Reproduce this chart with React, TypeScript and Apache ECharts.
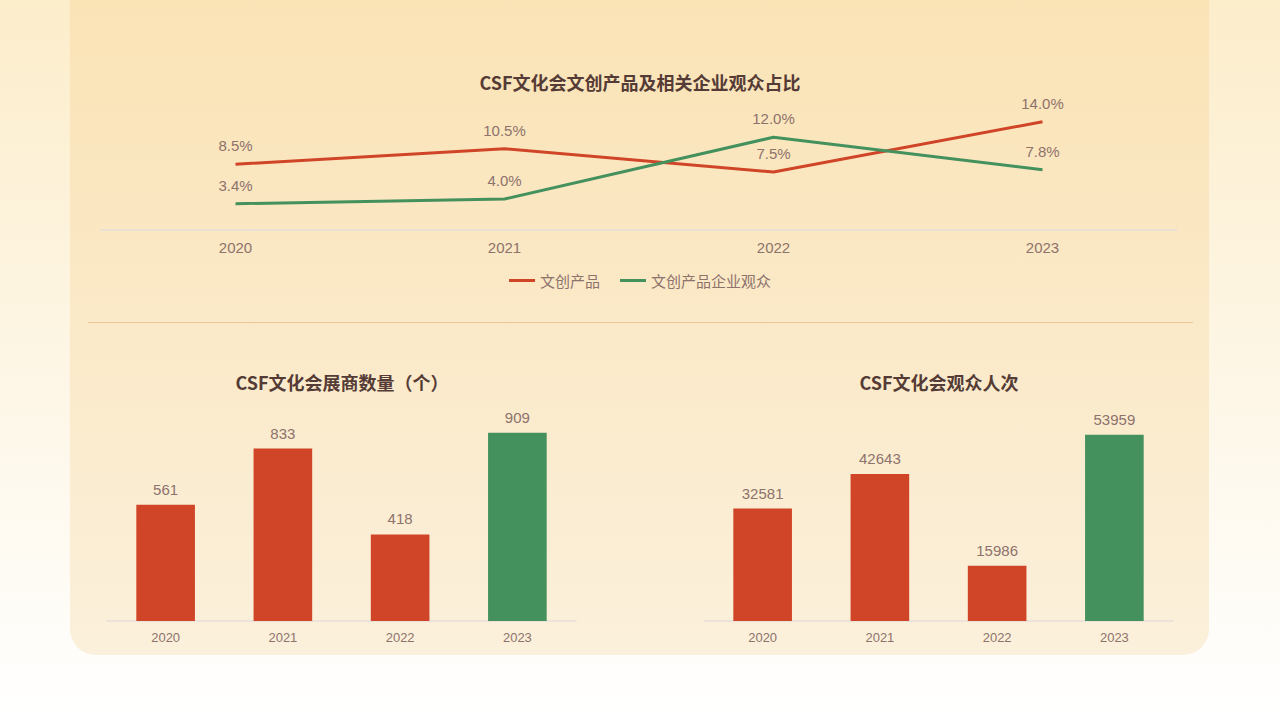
import React, { useRef, useEffect } from 'react';
import * as echarts from 'echarts';

const years = ['2020', '2021', '2022', '2023'];
const productShare = [8.5, 10.5, 7.5, 14.0];
const audienceShare = [3.4, 4.0, 12.0, 7.8];
const exhibitors = [561, 833, 418, 909];
const visitors = [32581, 42643, 15986, 53959];

const RED = '#D04527';
const GREEN = '#44915E';
const TITLE = '#553B36';
const LABEL = '#8E726C';
const AXIS = '#E7DEDA';

const barColor = (i: number) => (i === years.length - 1 ? GREEN : RED);

const App: React.FC = () => {
  const chartRef = useRef<HTMLDivElement>(null);

  useEffect(() => {
    document.body.style.margin = '0';
    if (!chartRef.current) return;
    const chart = echarts.init(chartRef.current, null, { renderer: 'svg' });

    const titleStyle = {
      fontFamily: 'Noto Sans CJK SC',
      fontWeight: 'bold' as const,
      fontSize: 18,
      color: TITLE,
    };
    const catAxis = (gridIndex: number, size: number, margin: number) => ({
      type: 'category',
      gridIndex,
      data: years,
      axisLine: { lineStyle: { color: AXIS, width: 1.5 } },
      axisTick: { show: false },
      axisLabel: { color: LABEL, fontSize: size, fontFamily: 'Liberation Sans', margin },
    });
    const valAxis = (gridIndex: number, max: number) => ({
      type: 'value',
      gridIndex,
      min: 0,
      max,
      show: false,
      splitLine: { show: false },
    });
    const barData = (vals: number[]) =>
      vals.map((v, i) => ({ value: v, itemStyle: { color: barColor(i) } }));
    const barLabel = {
      show: true,
      position: 'top',
      distance: 8,
      color: LABEL,
      fontSize: 15,
      fontFamily: 'Liberation Sans',
    };
    const lineLabel = {
      show: true,
      position: 'top',
      distance: 11,
      color: LABEL,
      fontSize: 15,
      fontFamily: 'Liberation Sans',
      formatter: (p: any) => p.value.toFixed(1) + '%',
    };

    chart.setOption({
      animation: false,
      backgroundColor: new echarts.graphic.LinearGradient(0, 0, 0, 1, [
        { offset: 0, color: '#FCEDCB' },
        { offset: 1, color: '#FFFFFF' },
      ]),
      graphic: [
        {
          type: 'rect',
          z: -10,
          shape: { x: 70, y: -40, width: 1139, height: 695, r: 26 },
          style: {
            fill: new echarts.graphic.LinearGradient(0, 0, 0, 1, [
              { offset: 0, color: '#FAE2B3' },
              { offset: 1, color: '#FBF0DB' },
            ]),
          },
        },
        {
          type: 'line',
          z: -5,
          shape: { x1: 88, y1: 322.5, x2: 1193, y2: 322.5 },
          style: { stroke: '#F0C792', lineWidth: 1 },
        },
      ],
      title: [
        { text: 'CSF文化会文创产品及相关企业观众占比', left: 635, top: 68, textAlign: 'center', textStyle: titleStyle },
        { text: 'CSF文化会展商数量（个）', left: 337, top: 368, textAlign: 'center', textStyle: titleStyle },
        { text: 'CSF文化会观众人次', left: 934, top: 368, textAlign: 'center', textStyle: titleStyle },
      ],
      legend: {
        top: 268,
        left: 'center',
        icon: 'rect',
        itemWidth: 26,
        itemHeight: 3,
        itemGap: 20,
        textStyle: { color: LABEL, fontSize: 15, fontFamily: 'Noto Sans CJK SC' },
        data: ['文创产品', '文创产品企业观众'],
      },
      grid: [
        { left: 101, width: 1076, top: 114, height: 116 },
        { left: 107, width: 469, top: 414, height: 207 },
        { left: 704, width: 469, top: 414, height: 207 },
      ],
      xAxis: [catAxis(0, 15, 10), catAxis(1, 13, 10), catAxis(2, 13, 10)],
      yAxis: [valAxis(0, 15), valAxis(1, 1000), valAxis(2, 60000)],
      series: [
        {
          name: '文创产品',
          type: 'line',
          xAxisIndex: 0,
          yAxisIndex: 0,
          data: productShare,
          symbol: 'circle',
          symbolSize: 0,
          lineStyle: { color: RED, width: 3 },
          itemStyle: { color: RED },
          label: lineLabel,
        },
        {
          name: '文创产品企业观众',
          type: 'line',
          xAxisIndex: 0,
          yAxisIndex: 0,
          data: audienceShare,
          symbol: 'circle',
          symbolSize: 0,
          lineStyle: { color: GREEN, width: 3 },
          itemStyle: { color: GREEN },
          label: lineLabel,
        },
        {
          type: 'bar',
          xAxisIndex: 1,
          yAxisIndex: 1,
          barWidth: '50%',
          data: barData(exhibitors),
          label: barLabel,
        },
        {
          type: 'bar',
          xAxisIndex: 2,
          yAxisIndex: 2,
          barWidth: '50%',
          data: barData(visitors),
          label: barLabel,
        },
      ],
    });

    return () => chart.dispose();
  }, []);

  return (
    <div
      ref={chartRef}
      style={{ position: 'fixed', left: 0, top: 0, width: 1280, height: 720 }}
    />
  );
};

export default App;
